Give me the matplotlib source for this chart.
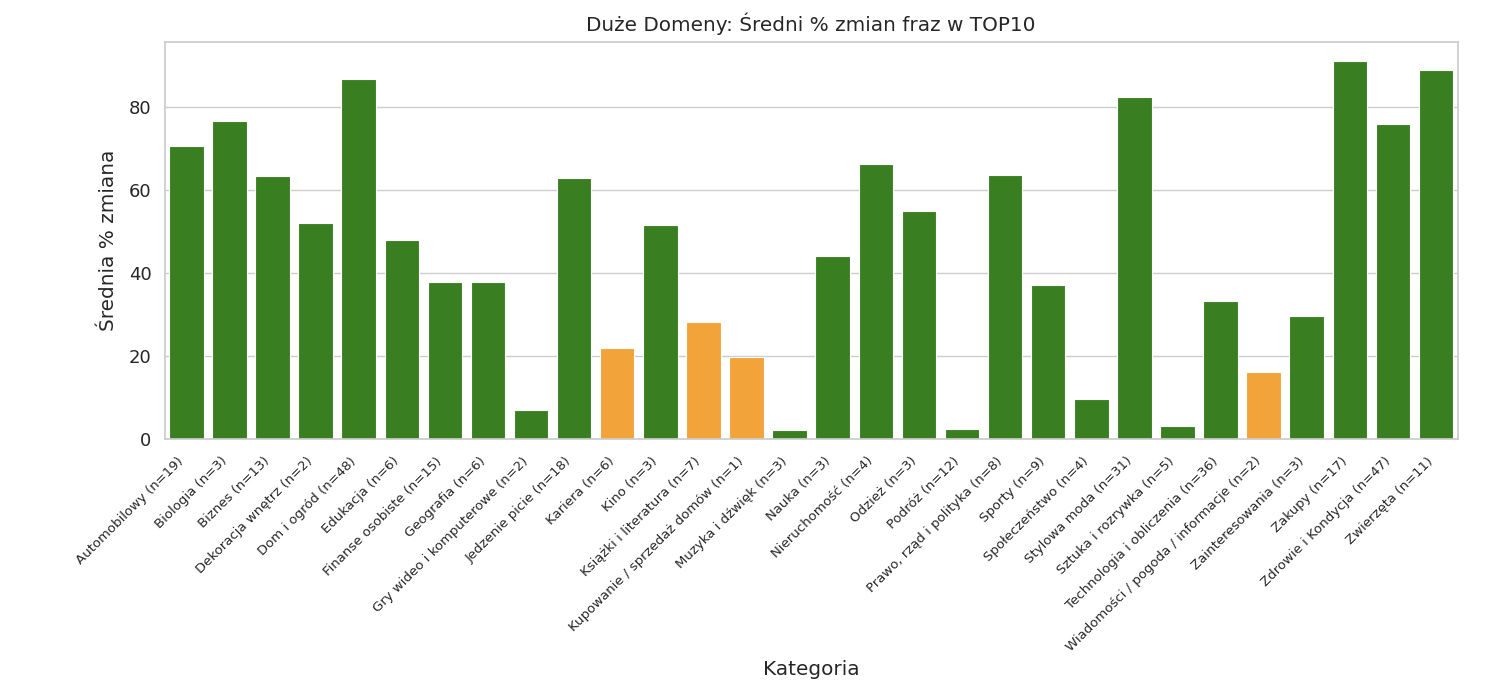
import matplotlib
matplotlib.use("Agg")
import matplotlib.pyplot as plt
import seaborn as sns

categories = [
    "Automobilowy (n=19)", "Biologia (n=3)", "Biznes (n=13)", "Dekoracja wnętrz (n=2)",
    "Dom i ogród (n=48)", "Edukacja (n=6)", "Finanse osobiste (n=15)", "Geografia (n=6)",
    "Gry wideo i komputerowe (n=2)", "Jedzenie picie (n=18)", "Kariera (n=6)", "Kino (n=3)",
    "Książki i literatura (n=7)", "Kupowanie / sprzedaż domów (n=1)", "Muzyka i dźwięk (n=3)",
    "Nauka (n=3)", "Nieruchomość (n=4)", "Odzież (n=3)", "Podróż (n=12)",
    "Prawo, rząd i polityka (n=8)", "Sporty (n=9)", "Społeczeństwo (n=4)",
    "Stylowa moda (n=31)", "Sztuka i rozrywka (n=5)", "Technologia i obliczenia (n=36)",
    "Wiadomości / pogoda / informacje (n=2)", "Zainteresowania (n=3)", "Zakupy (n=17)",
    "Zdrowie i Kondycja (n=47)", "Zwierzęta (n=11)",
]
mean_change = [
    70.6, 76.7, 63.4, 52.0, 86.8, 48.1, 37.8, 38.0, 7.0, 63.0, 22.1, 51.6,
    28.2, 19.9, 2.3, 44.1, 66.3, 55.0, 2.5, 63.7, 37.1, 9.8, 82.5, 3.3,
    33.2, 16.3, 29.8, 91.1, 76.0, 89.0,
]
highlighted = [
    "Kariera (n=6)", "Książki i literatura (n=7)",
    "Kupowanie / sprzedaż domów (n=1)", "Wiadomości / pogoda / informacje (n=2)",
]

sns.set_theme(style="whitegrid")

green = "#3a7e22"
orange = "#f2a33a"
colors = [orange if c in highlighted else green for c in categories]

fig, ax = plt.subplots(figsize=(14.98, 6.8), dpi=100)
fig.subplots_adjust(left=0.110, right=0.973, top=0.938, bottom=0.354)

ax.bar(range(len(categories)), mean_change, width=0.8, color=colors, edgecolor="white", linewidth=0.8)
ax.set_xlim(-0.5, len(categories) - 0.5)
ax.grid(axis="x", visible=False)
ax.set_axisbelow(True)

ax.set_xticks(range(len(categories)))
ax.set_xticklabels(categories, rotation=45, ha="right", fontsize=9.5)
ax.tick_params(axis="x", pad=5)
ax.tick_params(axis="y", labelsize=13)

ax.set_title("Duże Domeny: Średni % zmian fraz w TOP10", fontsize=14.4, pad=8)
ax.set_xlabel("Kategoria", fontsize=14.4)
ax.set_ylabel("Średnia % zmiana", fontsize=14.4, labelpad=8)

fig.savefig("out.png", dpi=100)
